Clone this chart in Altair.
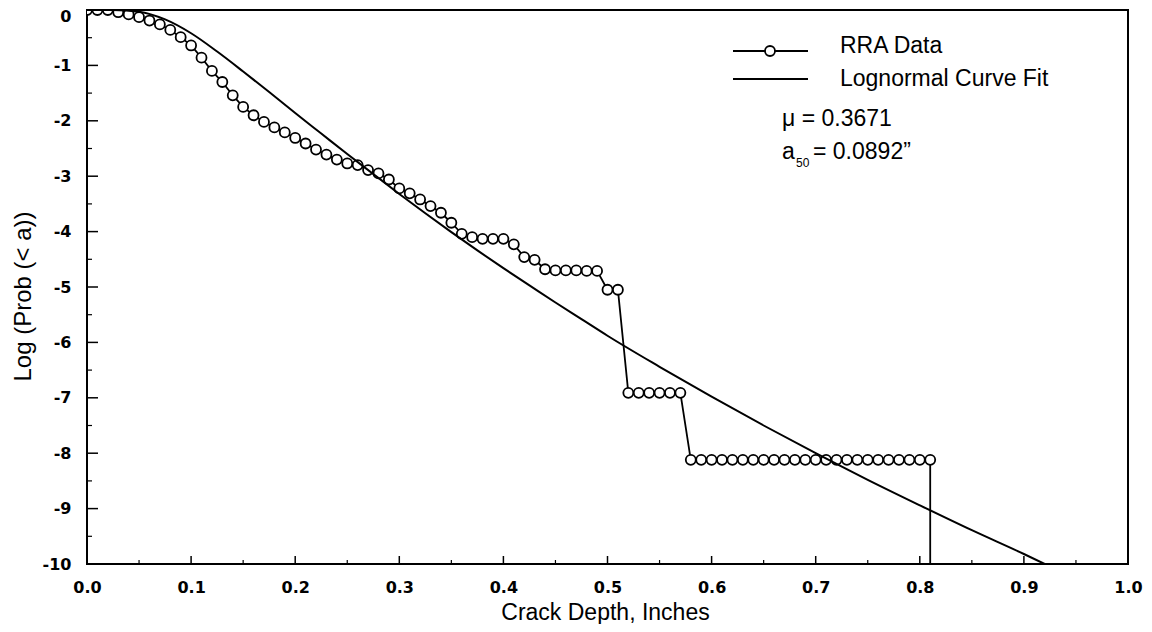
import altair as alt
import pandas as pd

# ---------------- data ----------------
rra_x = [0.00, 0.01, 0.02, 0.03, 0.04, 0.05, 0.06, 0.07, 0.08, 0.09,
         0.10, 0.11, 0.12, 0.13, 0.14, 0.15, 0.16, 0.17, 0.18, 0.19,
         0.20, 0.21, 0.22, 0.23, 0.24, 0.25, 0.26, 0.27, 0.28, 0.29,
         0.30, 0.31, 0.32, 0.33, 0.34, 0.35, 0.36, 0.37, 0.38, 0.39,
         0.40, 0.41, 0.42, 0.43, 0.44, 0.45, 0.46, 0.47, 0.48, 0.49,
         0.50, 0.51, 0.52, 0.53, 0.54, 0.55, 0.56, 0.57, 0.58, 0.59,
         0.60, 0.61, 0.62, 0.63, 0.64, 0.65, 0.66, 0.67, 0.68, 0.69,
         0.70, 0.71, 0.72, 0.73, 0.74, 0.75, 0.76, 0.77, 0.78, 0.79,
         0.80, 0.81]
rra_y = [0.00, 0.00, 0.00, -0.04, -0.08, -0.13, -0.19, -0.26, -0.36, -0.49,
         -0.64, -0.86, -1.10, -1.30, -1.54, -1.75, -1.90, -2.02, -2.12, -2.21,
         -2.31, -2.41, -2.52, -2.61, -2.70, -2.77, -2.80, -2.89, -2.95, -3.06,
         -3.22, -3.31, -3.42, -3.54, -3.66, -3.84, -4.04, -4.10, -4.13, -4.13,
         -4.13, -4.23, -4.46, -4.51, -4.68, -4.70, -4.70, -4.70, -4.71, -4.71,
         -5.05, -5.05, -6.91, -6.91, -6.91, -6.91, -6.91, -6.91, -8.12, -8.12,
         -8.12, -8.12, -8.12, -8.12, -8.12, -8.12, -8.12, -8.12, -8.12, -8.12,
         -8.12, -8.12, -8.12, -8.12, -8.12, -8.12, -8.12, -8.12, -8.12, -8.12,
         -8.12, -8.12]
# the RRA line falls to the bottom of the axis after the last point
rra_tail_x = [0.81]
rra_tail_y = [-10.0]

fit_x = [0.00, 0.025, 0.05, 0.075, 0.10, 0.125, 0.15, 0.175, 0.20, 0.225,
         0.25, 0.275, 0.30, 0.325, 0.35, 0.375, 0.40, 0.425, 0.45, 0.475,
         0.50, 0.55, 0.60, 0.65, 0.70, 0.75, 0.80, 0.85, 0.90, 0.92]
fit_y = [0.00, 0.00, -0.03, -0.17, -0.42, -0.75, -1.11, -1.48, -1.86, -2.23,
         -2.60, -2.96, -3.32, -3.67, -4.01, -4.34, -4.66, -4.97, -5.28, -5.58,
         -5.88, -6.44, -6.98, -7.50, -8.00, -8.48, -8.94, -9.39, -9.82, -10.0]

x_major = [0.0, 0.1, 0.2, 0.3, 0.4, 0.5, 0.6, 0.7, 0.8, 0.9, 1.0]
x_minor = [0.05, 0.15, 0.25, 0.35, 0.45, 0.55, 0.65, 0.75, 0.85, 0.95]
y_major = [0, -1, -2, -3, -4, -5, -6, -7, -8, -9, -10]
y_minor = [-0.5, -1.5, -2.5, -3.5, -4.5, -5.5, -6.5, -7.5, -8.5, -9.5]

legend_labels = ["RRA Data", "Lognormal Curve Fit"]
mu_text = "\u03bc = 0.3671"
a50_main = "a"
a50_sub = "50"
a50_rest = "= 0.0892\u201d"

x_title = "Crack Depth, Inches"
y_title = "Log (Prob (< a))"

# ---------------- tables ----------------
n = len(rra_x)
rra_line_df = pd.DataFrame({
    "x": rra_x + rra_tail_x,
    "y": rra_y + rra_tail_y,
    "i": list(range(n + len(rra_tail_x))),
})
rra_pts_df = pd.DataFrame({"x": rra_x, "y": rra_y})
fit_df = pd.DataFrame({"x": fit_x, "y": fit_y})

W, H = 1041, 554
FONT = "Liberation Sans"
TICKFONT = "DejaVu Sans"

xscale = alt.Scale(domain=[0, 1], nice=False, zero=False)
yscale = alt.Scale(domain=[-10, 0], nice=False, zero=False)

xaxis = alt.Axis(values=x_major, format=".1f", title=x_title,
                 labelFont=TICKFONT, labelFontWeight="bold", labelFontSize=16,
                 labelPadding=15, labelColor="black", labelFlush=False,
                 titleFont=FONT, titleFontSize=23, titleFontWeight="normal",
                 titleColor="black", titleX=518, titleY=55,
                 titleBaseline="alphabetic", titleAlign="center",
                 domain=False, ticks=False, grid=False)
yaxis = alt.Axis(values=y_major, labelExpr="toString(datum.value)", title=y_title,
                 labelFont=TICKFONT, labelFontWeight="bold", labelFontSize=16,
                 labelPadding=16, labelColor="black", labelFlush=False,
                 labelOffset={"condition": {"test": "datum.value == 0", "value": 6},
                              "value": 0},
                 titleFont=FONT, titleFontSize=24, titleFontWeight="normal",
                 titleColor="black", titleAngle=270, titleX=-64, titleY=286,
                 titleBaseline="middle", titleAlign="center",
                 domain=False, ticks=False, grid=False)

rra_line = alt.Chart(rra_line_df).mark_line(
    color="black", strokeWidth=1.8, clip=True
).encode(
    x=alt.X("x:Q", scale=xscale, axis=xaxis),
    y=alt.Y("y:Q", scale=yscale, axis=yaxis),
    order=alt.Order("i:Q"),
)

rra_pts = alt.Chart(rra_pts_df).mark_point(
    shape="circle", filled=True, fill="white", stroke="black",
    strokeWidth=1.8, size=100, opacity=1, clip=True
).encode(
    x=alt.X("x:Q", scale=xscale),
    y=alt.Y("y:Q", scale=yscale),
)

fit_line = alt.Chart(fit_df).mark_line(
    color="black", strokeWidth=2, interpolate="monotone", clip=True
).encode(
    x=alt.X("x:Q", scale=xscale),
    y=alt.Y("y:Q", scale=yscale),
)

# inward tick marks
xmaj_df = pd.DataFrame({"x": x_major})
xmin_df = pd.DataFrame({"x": x_minor})
ymaj_df = pd.DataFrame({"y": y_major})
ymin_df = pd.DataFrame({"y": y_minor})

xmaj_ticks = alt.Chart(xmaj_df).mark_rule(color="black", strokeWidth=1.5).encode(
    x=alt.X("x:Q", scale=xscale), y=alt.value(H), y2=alt.value(H - 8))
xmin_ticks = alt.Chart(xmin_df).mark_rule(color="black", strokeWidth=1.2).encode(
    x=alt.X("x:Q", scale=xscale), y=alt.value(H), y2=alt.value(H - 4))
ymaj_ticks = alt.Chart(ymaj_df).mark_rule(color="black", strokeWidth=1.5).encode(
    y=alt.Y("y:Q", scale=yscale), x=alt.value(0), x2=alt.value(11))
ymin_ticks = alt.Chart(ymin_df).mark_rule(color="black", strokeWidth=1.2).encode(
    y=alt.Y("y:Q", scale=yscale), x=alt.value(0), x2=alt.value(5))

# legend / annotation block
one = alt.Data(values=[{"k": 1}])
leg_line1 = alt.Chart(one).mark_rule(color="black", strokeWidth=1.8).encode(
    x=alt.value(646), x2=alt.value(721), y=alt.value(41))
leg_pt = alt.Chart(one).mark_point(
    shape="circle", filled=True, fill="white", stroke="black",
    strokeWidth=1.8, size=100, opacity=1).encode(x=alt.value(683), y=alt.value(41))
leg_line2 = alt.Chart(one).mark_rule(color="black", strokeWidth=1.8).encode(
    x=alt.value(646), x2=alt.value(721), y=alt.value(69))

def txt(s, x, y, size=23):
    return alt.Chart(one).mark_text(
        text=s, font=FONT, fontSize=size, color="black",
        align="left", baseline="middle"
    ).encode(x=alt.value(x), y=alt.value(y))

leg_t1 = txt(legend_labels[0], 753, 36)
leg_t2 = txt(legend_labels[1], 753, 69)
mu_t = txt(mu_text, 695, 109)
a_t = txt(a50_main, 695, 142)
a_sub = txt(a50_sub, 709, 153, size=12)
a_rest = txt(a50_rest, 726, 142)

chart = alt.layer(
    rra_line, rra_pts, fit_line,
    xmaj_ticks, xmin_ticks, ymaj_ticks, ymin_ticks,
    leg_line1, leg_pt, leg_line2,
    leg_t1, leg_t2, mu_t, a_t, a_sub, a_rest,
).properties(
    width=W, height=H,
    autosize=alt.AutoSizeParams(type="none"),
    padding={"left": 79, "top": 2, "right": 16, "bottom": 60},
    background="white",
).configure_view(
    stroke="black", strokeWidth=2
)

chart.save("out.html", embed_options={"renderer": "svg", "actions": False})
